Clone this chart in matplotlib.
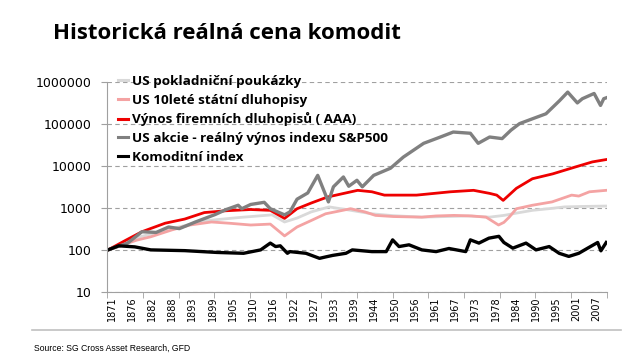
import numpy as np
import matplotlib
matplotlib.use("Agg")
import matplotlib.pyplot as plt
from matplotlib.lines import Line2D

tbill_years = [1870, 1879, 1888, 1897, 1907, 1916, 1919.5, 1923, 1927, 1932, 1937, 1944, 1950,
               1958, 1965, 1971, 1977, 1981, 1985, 1989, 1994, 1998, 2004, 2009.7]
tbill_vals = [100, 205, 320, 490, 590, 680, 460, 570, 800, 1050, 900, 720, 650,
              600, 620, 640, 600, 660, 760, 870, 960, 1050, 1080, 1100]

bond10_years = [1870, 1878, 1882, 1888, 1893, 1899, 1904, 1910, 1915.5, 1919.5, 1923, 1927, 1931,
                1938, 1942, 1945, 1950, 1958, 1962, 1967, 1972, 1976, 1979.5, 1981, 1982.5,
                1984.5, 1989, 1994.5, 2000, 2002, 2005, 2009.7]
bond10_vals = [100, 170, 205, 300, 390, 460, 430, 390, 410, 215, 350, 500, 720,
               950, 800, 660, 620, 600, 640, 660, 640, 600, 390, 450, 600,
               950, 1150, 1380, 2000, 1900, 2400, 2600]

corp_years = [1870, 1875, 1879.5, 1886, 1891.5, 1897, 1903, 1910, 1915.5, 1919.5, 1923, 1927,
              1931.5, 1940, 1944, 1947.5, 1956.5, 1966, 1972.5, 1977, 1979, 1980.8, 1984.5,
              1989, 1994.7, 2001, 2005.8, 2009.7]
corp_vals = [100, 170, 270, 430, 540, 770, 850, 910, 870, 560, 950, 1300,
             1800, 2600, 2400, 2000, 2000, 2400, 2600, 2200, 2000, 1500, 2900,
             4900, 6400, 9300, 12300, 14000]

stock_years = [1870, 1875.5, 1879.5, 1883.5, 1887, 1890, 1894.5, 1900, 1903, 1906.5, 1907.5, 1910,
               1913.8, 1915.5, 1919.5, 1921, 1923, 1926, 1928.8, 1931.8, 1933.2, 1936, 1937.5,
               1939.8, 1941.3, 1944.5, 1949.2, 1952.8, 1958.5, 1963.2, 1966.8, 1971.6, 1973.8,
               1977, 1980.5, 1983, 1985.4, 1989.1, 1992.8, 1996.6, 1998.9, 2001.6, 2003,
               2006.3, 2008.1, 2009, 2009.7]
stock_vals = [100, 145, 270, 260, 350, 320, 460, 690, 900, 1150, 950, 1200,
              1350, 950, 680, 800, 1600, 2250, 5900, 1380, 3150, 5400, 3250,
              4500, 3150, 5900, 8700, 16000, 34000, 48000, 63000, 59000, 34000,
              48000, 44000, 70000, 100000, 131000, 171000, 350000, 560000, 310000, 390000,
              520000, 270000, 390000, 410000]

comm_years = [1870, 1873, 1877.5, 1882, 1891.5, 1900.5, 1908, 1912.8, 1915.5, 1917, 1918.3, 1920.3,
              1921, 1925.5, 1929.3, 1931, 1933, 1936.7, 1938.5, 1944, 1948, 1949.8, 1951.6,
              1954.4, 1958, 1962, 1965.6, 1970.3, 1971.6, 1974, 1976.8, 1979.6, 1981, 1983.5,
              1987.2, 1990, 1993.7, 1996.5, 1999.2, 2002, 2004.5, 2006, 2007.3, 2008.2, 2009.7]
comm_vals = [100, 125, 118, 100, 96, 87, 83, 100, 145, 120, 125, 83,
             91, 83, 63, 68, 74, 83, 100, 91, 91, 173, 120,
             132, 100, 91, 108, 91, 173, 145, 190, 210, 150, 110,
             145, 100, 120, 83, 70, 83, 110, 130, 150, 95, 150]

series_labels = ["US pokladniční poukázky", "US 10leté státní dluhopisy",
                 "Výnos firemních dluhopisů ( AAA)", "US akcie - reálný výnos indexu S&P500",
                 "Komoditní index"]

x_labels = ["1871", "1876", "1882", "1888", "1893", "1899", "1905", "1910", "1916", "1922",
            "1927", "1933", "1939", "1944", "1950", "1956", "1961", "1967", "1973", "1978",
            "1984", "1990", "1995", "2001", "2007"]
y_ticks = [10, 100, 1000, 10000, 100000, 1000000]

fig = plt.figure(figsize=(6.32, 3.57), dpi=100)
ax = fig.add_axes([0.1698, 0.1821, 0.790, 0.5896])

colors = ["#d9d9d9", "#f4a3a3", "#ee0000", "#808080", "#000000"]
widths = [2.0, 2.0, 2.0, 2.4, 2.4]
data = [(tbill_years, tbill_vals), (bond10_years, bond10_vals), (corp_years, corp_vals),
        (stock_years, stock_vals), (comm_years, comm_vals)]
for (xs, ys), c, w in zip(data, colors, widths):
    ax.plot(xs, ys, color=c, lw=w, solid_joinstyle="round")

ax.set_yscale("log")
ax.set_ylim(10, 1000000)
ax.set_xlim(1869.8, 2009.8)
ax.set_yticks(y_ticks)
ax.set_yticklabels([str(v) for v in y_ticks], fontsize=9, family="DejaVu Sans")
ax.yaxis.set_minor_locator(matplotlib.ticker.NullLocator())
ax.tick_params(axis="y", length=4, color="#a0a0a0", pad=7)
ax.yaxis.grid(True, color="#a0a0a0", lw=0.8, linestyle=(0, (4, 3)))

label_pos = [1871 + i * 17 / 3 for i in range(len(x_labels))]
ax.set_xticks(label_pos)
ax.set_xticklabels(x_labels, rotation=90, fontsize=7, family="DejaVu Sans")
ax.set_xticks(np.arange(1869.8, 2010, 10), minor=True)
ax.tick_params(axis="x", which="major", length=0, pad=3)
ax.tick_params(axis="x", which="minor", length=4, color="#a0a0a0")

for s in ["top", "right"]:
    ax.spines[s].set_visible(False)
ax.spines["left"].set_color("#a0a0a0")
ax.spines["bottom"].set_color("#a0a0a0")

handles = [Line2D([], [], color=c, lw=2.2) for c in colors]
leg = ax.legend(handles, series_labels, loc="upper left", bbox_to_anchor=(0.008, 1.063),
                frameon=False, handlelength=0.75, handletextpad=0.3, labelspacing=0.42,
                borderpad=0, prop={"family": "Open Sans", "weight": "bold", "size": 9.7})

fig.text(0.084, 0.905, "Historická reálná cena komodit", fontsize=16, fontweight="bold",
         family="Open Sans", va="center", ha="left")
fig.text(0.054, 0.025, "Source: SG Cross Asset Research, GFD", fontsize=6.2,
         family="Liberation Sans", va="center", ha="left")
fig.add_artist(Line2D([32 / 632, 621 / 632], [1 - 330 / 357] * 2, color="#c0c0c0", lw=1.2,
                      transform=fig.transFigure))

plt.savefig("out.png", dpi=100)
